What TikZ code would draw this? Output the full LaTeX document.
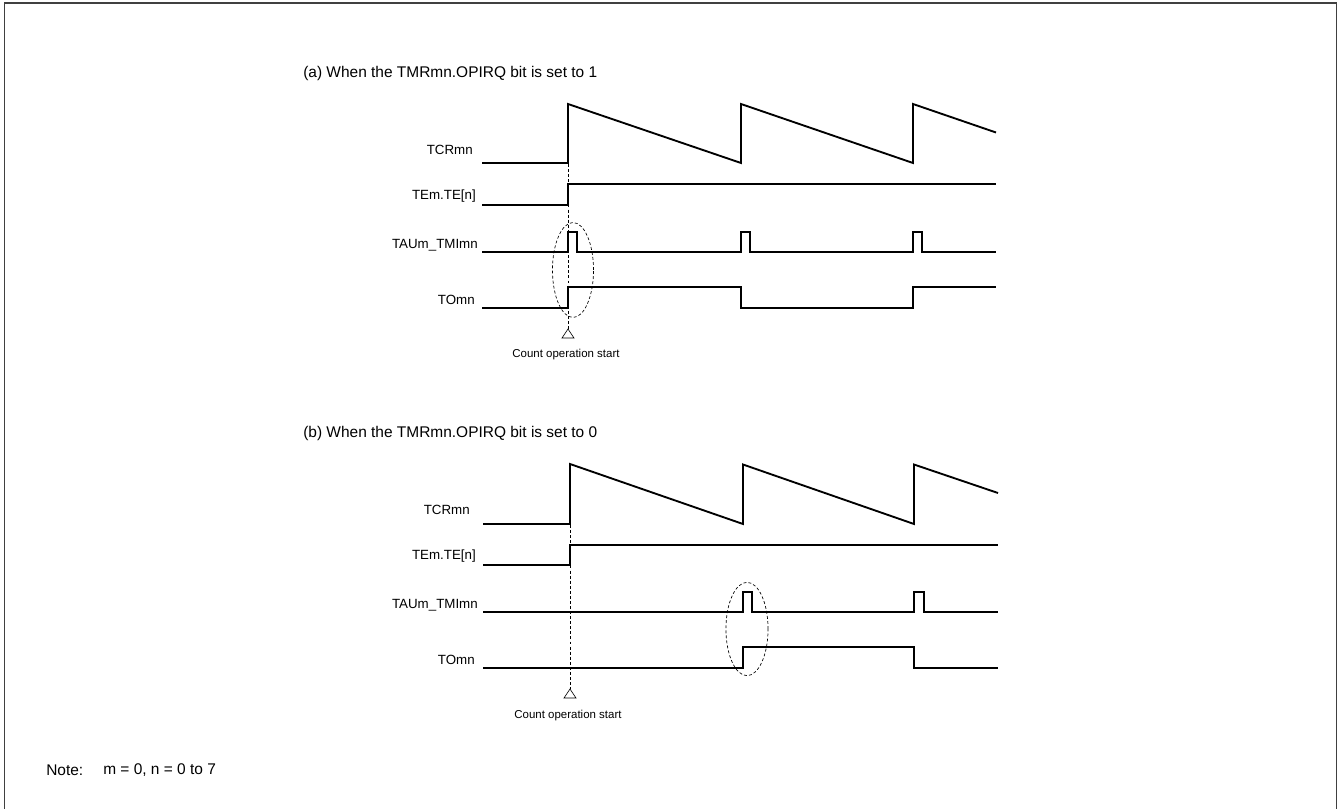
\documentclass[tikz,border=0pt]{standalone}
\usepackage{fontspec}
\setmainfont{Liberation Sans}
\begin{document}
\begin{tikzpicture}[x=0.75pt,y=-0.75pt,
  frame/.style={draw=black!75, line width=1.3pt},
  sig/.style={line width=1.4pt, line join=miter},
  guide/.style={line width=0.5pt, dash pattern=on 2.2pt off 1.6pt},
  ring/.style={line width=0.5pt, dash pattern=on 2.2pt off 1.6pt},
  lbl/.style={anchor=east, inner sep=0pt, font=\fontsize{10pt}{12pt}\selectfont},
  ttl/.style={anchor=west, inner sep=0pt, font=\fontsize{11.6pt}{14pt}\selectfont},
  small/.style={anchor=center, inner sep=0pt, font=\fontsize{8.6pt}{10pt}\selectfont},
  note/.style={anchor=west, inner sep=0pt, font=\fontsize{11.6pt}{14pt}\selectfont}]
\useasboundingbox (0,0) rectangle (1339,809);
\draw[frame] (4.5,812) -- (4.5,3) -- (1336.5,3) -- (1336.5,812);

% ---------- panel (a) ----------
\node[ttl] (ta) at (303,74) {(a) When the TMRmn.OPIRQ bit is set to 1};
\node[lbl] (a1) at (473,150) {TCRmn};
\node[lbl] (a2) at (476,196) {TEm.TE[n]};
\node[lbl] (a3) at (478,245) {TAUm\_TMImn};
\node[lbl] (a4) at (475,300) {TOmn};
\draw[sig] (482,163) -- (568,163) -- (568,104) -- (741,163) -- (741,104) -- (913,163) -- (913,104) -- (996,132.5);
\draw[sig] (482,205) -- (568,205) -- (568,184) -- (996,184);
\draw[sig] (482,252) -- (568,252) -- (568,232) -- (577,232) -- (577,252) -- (741,252) -- (741,232) -- (750,232) -- (750,252) -- (913,252) -- (913,232) -- (922,232) -- (922,252) -- (996,252);
\draw[sig] (482,308) -- (568,308) -- (568,287) -- (741,287) -- (741,308) -- (913,308) -- (913,287) -- (996,287);
\coordinate (ga) at (568,164);
\coordinate (tra) at (568,329);
\draw[guide] (ga) -- (tra);
\draw[line width=0.5pt] (tra) -- ++(-6,9) -- ++(12,0) -- cycle;
\node[small] (ca) at (566,355) {Count operation start};
\draw[ring] (573,270) ellipse [x radius=15.4pt, y radius=35.6pt];

% ---------- panel (b) ----------
\node[ttl] (tb) at (303,433) {(b) When the TMRmn.OPIRQ bit is set to 0};
\node[lbl] (b1) at (470,510) {TCRmn};
\node[lbl] (b2) at (476,556) {TEm.TE[n]};
\node[lbl] (b3) at (478,605) {TAUm\_TMImn};
\node[lbl] (b4) at (475,660) {TOmn};
\draw[sig] (483,524) -- (570,524) -- (570,464) -- (743,524) -- (743,464.5) -- (914,524) -- (914,464.5) -- (998,493);
\draw[sig] (483,565) -- (570,565) -- (570,545) -- (998,545);
\draw[sig] (483,612) -- (743,612) -- (743,592) -- (752,592) -- (752,612) -- (914,612) -- (914,592) -- (924,592) -- (924,612) -- (998,612);
\draw[sig] (483,668) -- (743,668) -- (743,647) -- (914,647) -- (914,668) -- (998,668);
\coordinate (gb) at (570,525);
\coordinate (trb) at (570,689);
\draw[guide] (gb) -- (trb);
\draw[line width=0.5pt] (trb) -- ++(-6,9) -- ++(12,0) -- cycle;
\node[small] (cb) at (568,716) {Count operation start};
\draw[ring] (747,629) ellipse [x radius=15.8pt, y radius=35pt];

% ---------- note ----------
\node[note] (n1) at (46,770) {Note:};
\node[note] (n2) at (103,770) {m = 0, n = 0 to 7};
\end{tikzpicture}
\end{document}
